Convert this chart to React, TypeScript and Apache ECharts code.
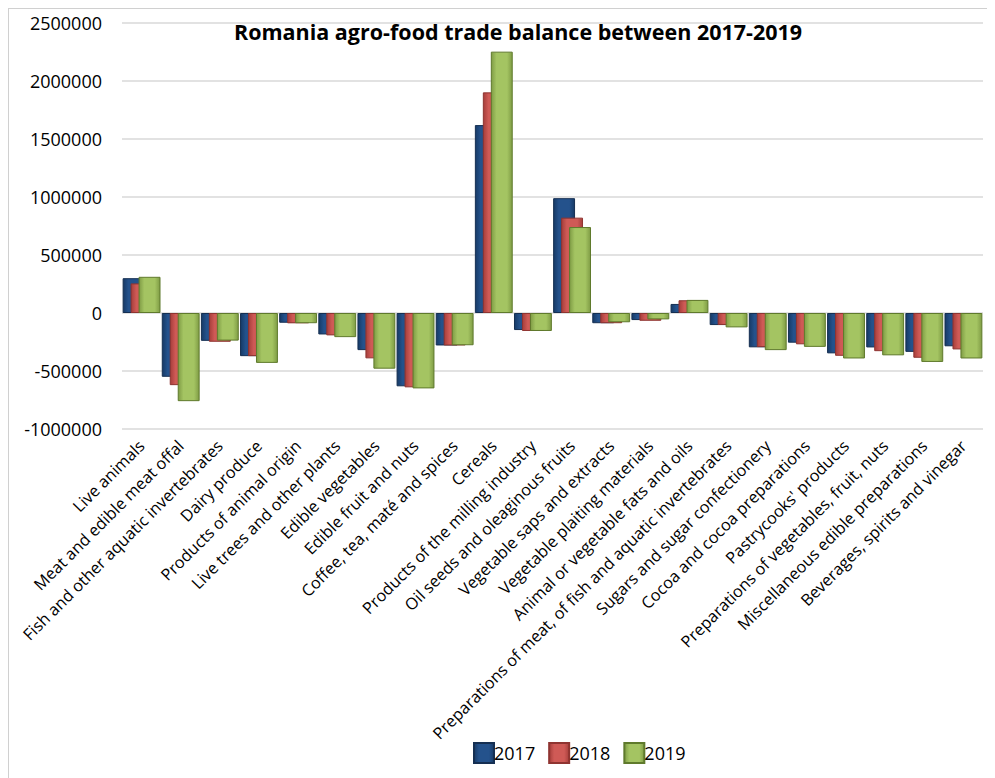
import React, { useEffect, useRef } from "react";
import * as echarts from "echarts";

const categories = [
  "Live animals",
  "Meat and edible meat offal",
  "Fish and other aquatic invertebrates",
  "Dairy produce",
  "Products of animal origin",
  "Live trees and other plants",
  "Edible vegetables",
  "Edible fruit and nuts",
  "Coffee, tea, maté and spices",
  "Cereals",
  "Products of the milling industry",
  "Oil seeds and oleaginous fruits",
  "Vegetable saps and extracts",
  "Vegetable plaiting materials",
  "Animal or vegetable fats and oils",
  "Preparations of meat, of fish and aquatic invertebrates",
  "Sugars and sugar confectionery",
  "Cocoa and cocoa preparations",
  "Pastrycooks' products",
  "Preparations of vegetables, fruit, nuts",
  "Miscellaneous edible preparations",
  "Beverages, spirits and vinegar",
];

const values2017 = [300000, -550000, -240000, -372000, -84000, -185000, -320000, -632000, -280000, 1620000, -147000, 990000, -88000, -61000, 78000, -104000, -296000, -256000, -348000, -297000, -335000, -287000];
const values2018 = [255000, -622000, -248000, -372000, -89000, -193000, -391000, -641000, -280000, 1902000, -155000, 822000, -88000, -67000, 110000, -103000, -294000, -270000, -369000, -329000, -386000, -314000];
const values2019 = [312000, -760000, -238000, -430000, -88000, -208000, -480000, -650000, -278000, 2253000, -155000, 741000, -80000, -55000, 113000, -124000, -320000, -292000, -392000, -365000, -422000, -392000];

const seriesNames = ["2017", "2018", "2019"];

const FONT = "'Open Sans', 'Noto Sans', sans-serif";

function grad(edge: string, mid: string) {
  return new echarts.graphic.LinearGradient(0, 0, 1, 0, [
    { offset: 0, color: edge },
    { offset: 0.25, color: mid },
    { offset: 0.75, color: mid },
    { offset: 1, color: edge },
  ]);
}

export default function App() {
  const ref = useRef<HTMLDivElement>(null);

  useEffect(() => {
    document.documentElement.style.overflow = "hidden";
    document.body.style.overflow = "hidden";
    if (!ref.current) return;
    const chart = echarts.init(ref.current, null, { renderer: "svg" });

    const styles = [
      { color: grad("#173a66", "#24528c"), borderColor: "#152f52" },
      { color: grad("#a63e3b", "#cf5a56"), borderColor: "#8f3431" },
      { color: grad("#7f9c45", "#a4c462"), borderColor: "#5f7a2c" },
    ];
    const data = [values2017, values2018, values2019];

    chart.setOption({
      animation: false,
      backgroundColor: "#ffffff",
      title: {
        text: "Romania agro-food trade balance between 2017-2019",
        left: 220,
        top: 6,
        textStyle: {
          fontFamily: FONT,
          fontSize: 21.5,
          fontWeight: "bold",
          color: "#000000",
        },
      },
      legend: {
        data: seriesNames,
        icon: "rect",
        left: 459,
        top: 728,
        itemWidth: 20,
        itemHeight: 20,
        itemGap: 13,
        textStyle: { fontFamily: FONT, fontSize: 18, color: "#000000", padding: [0, 0, 0, -5] },
      },
      grid: { left: 113, right: 12, top: 14, bottom: 349, containLabel: false },
      xAxis: {
        type: "category",
        data: categories,
        axisLine: { show: false, onZero: false },
        axisTick: { show: false },
        splitLine: { show: false },
        axisLabel: {
          rotate: 45,
          interval: 0,
          margin: 14,
          fontFamily: FONT,
          fontSize: 16.3,
          color: "#000000",
        },
      },
      yAxis: {
        type: "value",
        min: -1000000,
        max: 2500000,
        interval: 500000,
        axisLine: { show: false },
        axisTick: { show: false },
        axisLabel: {
          margin: 20,
          fontFamily: FONT,
          fontSize: 18,
          color: "#000000",
          formatter: (v: number) => String(v),
        },
        splitLine: { lineStyle: { color: "#d9d9d9", width: 1.5 } },
      },
      series: seriesNames.map((name, i) => ({
        name,
        type: "bar",
        data: data[i],
        barWidth: "56%",
        barGap: "-63.6%",
        itemStyle: { ...styles[i], borderWidth: 1 },
        emphasis: { disabled: true },
      })),
    });

    return () => chart.dispose();
  }, []);

  return (
    <div
      style={{
        width: 987,
        height: 770,
        borderLeft: "1px solid #d0d0d0",
        borderTop: "1px solid #d0d0d0",
        boxSizing: "border-box",
      }}
    >
      <div ref={ref} style={{ width: 986, height: 769 }} />
    </div>
  );
}
